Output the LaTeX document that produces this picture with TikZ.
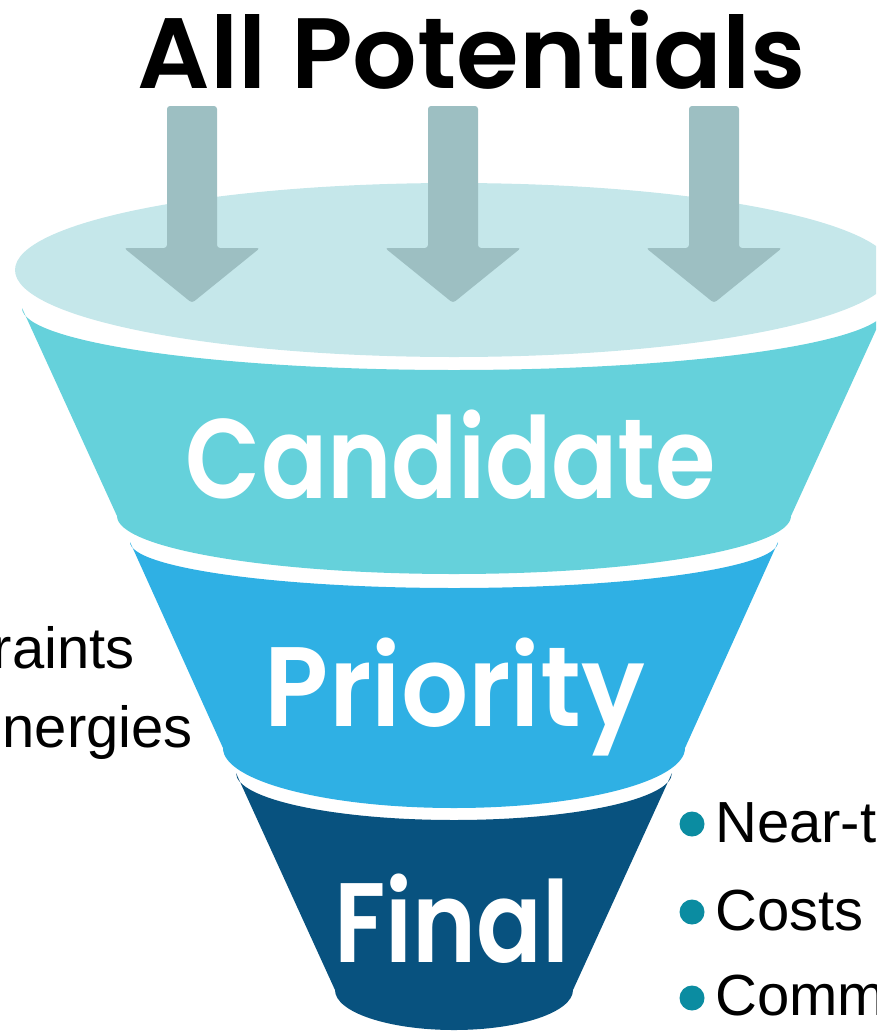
\documentclass[tikz,border=0pt]{standalone}
\usepackage{fontspec}
\usepackage{graphicx}
\setmainfont{Liberation Sans}
\newfontfamily\popsb{Poppins SemiBold}
\definecolor{lidc}{HTML}{C5E7EA}
\definecolor{arrc}{HTML}{9DBFC2}
\definecolor{candc}{HTML}{65D1DB}
\definecolor{prioc}{HTML}{2FB0E4}
\definecolor{finc}{HTML}{08527F}
\definecolor{bulc}{HTML}{0B8CA1}
\newcommand\fitw[2]{\resizebox{#1}{\height}{#2}}
\tikzset{
  title/.style={inner sep=0, anchor=base, font=\popsb\fontsize{100}{100}\selectfont, text=black},
  band/.style={inner sep=0, anchor=base, font=\popsb\fontsize{113}{113}\selectfont, text=white},
  side/.style={inner sep=0, font=\fontsize{58}{58}\selectfont, text=black},
  bul/.style={fill=bulc},
  arrowshape/.style={fill=arrc, rounded corners=3pt}
}
\begin{document}
\begin{tikzpicture}[x=1pt,y=-1pt]
\useasboundingbox (0,0) rectangle (876,1031);
\clip (0,0) rectangle (876,1031);
% lid
\fill[lidc] (454,270) ellipse[x radius=439, y radius=87];
% bands
\fill[candc] (22,308) -- (117,516) arc[start angle=180,end angle=0,x radius=337,y radius=58]
  -- (886,308) arc[start angle=0,end angle=180,x radius=432,y radius=62] -- cycle;
\fill[prioc] (130,542) -- (223,748) arc[start angle=180,end angle=0,x radius=231,y radius=60]
  -- (778,542) arc[start angle=0,end angle=180,x radius=324,y radius=46] -- cycle;
\fill[finc] (236,773) -- (335,990) arc[start angle=180,end angle=0,x radius=119,y radius=40]
  -- (672,773) arc[start angle=0,end angle=180,x radius=218,y radius=47] -- cycle;
% arrows
\foreach \c in {192,453,714}{
  \fill[arrowshape] ({\c-25},106) -- ({\c+25},106) -- ({\c+25},248) -- ({\c+68},248)
    -- (\c,303) -- ({\c-68},248) -- ({\c-25},248) -- cycle;
}
% texts
\node[title] (ttl) at (472,88) {\fitw{668pt}{All Potentials}};
\node[band] (cand) at (451,498) {\fitw{530pt}{Candidate}};
\node[band] (prio) at (455,726) {\fitw{380pt}{Priority}};
\node[band] (fin) at (452,962) {\fitw{235pt}{Final}};
\node[side, anchor=base east] (l1) at (135,668) {raints};
\node[side, anchor=base east] (l2) at (193,747) {nergies};
\fill[bul] (692,824) circle[radius=12.5];
\fill[bul] (692,912) circle[radius=12.5];
\fill[bul] (692,998) circle[radius=12.5];
\node[side, anchor=base west] (r1) at (715,842) {Near-t};
\node[side, anchor=base west] (r2) at (715,930) {Costs};
\node[side, anchor=base west] (r3) at (715,1015) {Comm};
\end{tikzpicture}
\end{document}
